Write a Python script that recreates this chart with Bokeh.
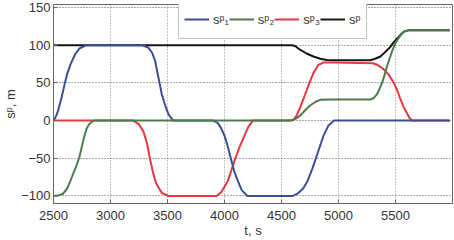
from bokeh.plotting import figure
from bokeh.models import Range1d, FixedTicker, Legend, LegendItem
from bokeh.embed import file_html
from bokeh.resources import INLINE

# ---- data ----
t_s1 = [2500, 2520, 2540, 2570, 2600, 2620, 2650, 2690, 2730, 2790,
        3280, 3330, 3365, 3390, 3410, 3430, 3450, 3480, 3510, 3550,
        3900, 3940, 3970, 4000, 4030, 4055, 4085, 4117, 4150, 4200,
        4600, 4640, 4690, 4729, 4770, 4802, 4835, 4869, 4910, 4960, 5975]
v_s1 = [0, 5, 13, 30, 50, 62, 75, 88, 96, 100,
        100, 97, 90, 80, 65, 50, 35, 20, 8, 0,
        0, -3, -10, -20, -35, -50, -67, -80, -92, -100,
        -100, -97, -90, -80, -64, -50, -35, -20, -7, 0, 0]

t_s2 = [2500, 2540, 2584, 2620, 2648, 2700, 2724, 2748, 2768, 2790, 2812, 2835, 2860,
        4590, 4630, 4662, 4710, 4750, 4800, 4838, 4926,
        5280, 5310, 5338, 5360, 5382, 5405, 5426, 5450, 5470, 5500, 5529, 5560, 5588, 5632, 5975]
v_s2 = [-100, -99.5, -97, -90, -80, -60, -50, -35, -22, -11, -5, -1.5, 0,
        0, 3, 6.5, 14, 20, 25, 27.5, 28,
        28, 30, 35, 42, 50, 61, 72, 83, 92, 103, 110, 116, 119, 120, 120]

t_s3 = [2500, 3200, 3250, 3290, 3320, 3345, 3375, 3400, 3450, 3510,
        3930, 3970, 4000, 4029, 4060, 4096, 4135, 4175, 4210, 4250,
        4580, 4610, 4632, 4660, 4691, 4735, 4780, 4824, 4868, 4950,
        5300, 5340, 5370, 5397, 5440, 5485, 5515, 5544, 5575, 5603, 5625, 5647, 5975]
v_s3 = [0, 0, -5, -15, -30, -50, -70, -83, -96, -100,
        -100, -95, -88, -80, -66, -50, -34, -20, -8, 0,
        0, 2, 6.5, 16, 28, 46, 63, 74, 77, 77,
        76, 74, 71, 68, 61, 50, 40, 28, 17, 9, 3, 0, 0]

t_s = [2500, 4590, 4620, 4662, 4720, 4780, 4840, 4897, 4971,
       5279, 5320, 5368, 5410, 5456, 5485, 5515, 5545, 5573, 5617, 5975]
v_s = [100, 100, 99, 94, 89, 85, 82, 80.5, 80,
       80, 82, 85, 91, 98, 104, 109, 114, 118, 120, 120]

x_ticks = [2500, 3000, 3500, 4000, 4500, 5000, 5500]
y_ticks = [-100, -50, 0, 50, 100, 150]
labels = ["s\u1d56\u2081", "s\u1d56\u2082", "s\u1d56\u2083", "s\u1d56"]
colors = ["#3a4e96", "#4a7d4a", "#e8383e", "#151515"]

FONT = "Liberation Sans"

p = figure(width=454, height=240, output_backend="svg", toolbar_location=None,
           x_range=Range1d(2500, 6000), y_range=Range1d(-110, 154),
           min_border_left=51, min_border_right=2, min_border_top=4, min_border_bottom=34)
p.background_fill_color = "white"
p.border_fill_color = "white"
p.outline_line_color = "#666666"

# draw order: black, red, blue, green
r_s = p.line(t_s, v_s, line_color=colors[3], line_width=2)
r3 = p.line(t_s3, v_s3, line_color=colors[2], line_width=2)
r1 = p.line(t_s1, v_s1, line_color=colors[0], line_width=2)
r2 = p.line(t_s2, v_s2, line_color=colors[1], line_width=2)

for ax in (p.xaxis[0], p.yaxis[0]):
    ax.axis_line_color = "#666666"
    ax.major_tick_in = 4
    ax.major_tick_out = 0
    ax.major_tick_line_color = "#666666"
    ax.minor_tick_line_color = None
    ax.major_label_text_font = FONT
    ax.major_label_text_font_size = "13px"
    ax.major_label_text_color = "#333333"
    ax.axis_label_text_font = FONT
    ax.axis_label_text_font_size = "13px"
    ax.axis_label_text_font_style = "normal"
    ax.axis_label_text_color = "#333333"

p.xaxis[0].ticker = FixedTicker(ticks=x_ticks)
p.yaxis[0].ticker = FixedTicker(ticks=y_ticks)
p.xaxis[0].axis_label = "t, s"
p.yaxis[0].axis_label = "s\u1d56, m"
p.xaxis[0].major_label_standoff = 7
p.xaxis[0].axis_label_standoff = 0
p.yaxis[0].major_label_standoff = 3
p.yaxis[0].axis_label_standoff = 0

p.xgrid.grid_line_color = "#888888"
p.xgrid.grid_line_dash = "1 2"
p.ygrid.grid_line_color = "#555555"
p.ygrid.grid_line_dash = "1 2"
p.xgrid.ticker = FixedTicker(ticks=x_ticks)
p.ygrid.ticker = FixedTicker(ticks=y_ticks)

legend = Legend(items=[LegendItem(label=labels[0], renderers=[r1]),
                       LegendItem(label=labels[1], renderers=[r2]),
                       LegendItem(label=labels[2], renderers=[r3]),
                       LegendItem(label=labels[3], renderers=[r_s])],
                orientation="horizontal", location=(125, 164),
                glyph_width=25, glyph_height=28, label_standoff=4, spacing=0,
                padding=5, margin=0, label_height=28, label_width=12,
                label_text_font=FONT, label_text_font_size="13px",
                label_text_color="#333333",
                border_line_color="#888888", background_fill_alpha=1.0)
p.add_layout(legend)

open("out.html", "w").write(file_html(p, INLINE))
